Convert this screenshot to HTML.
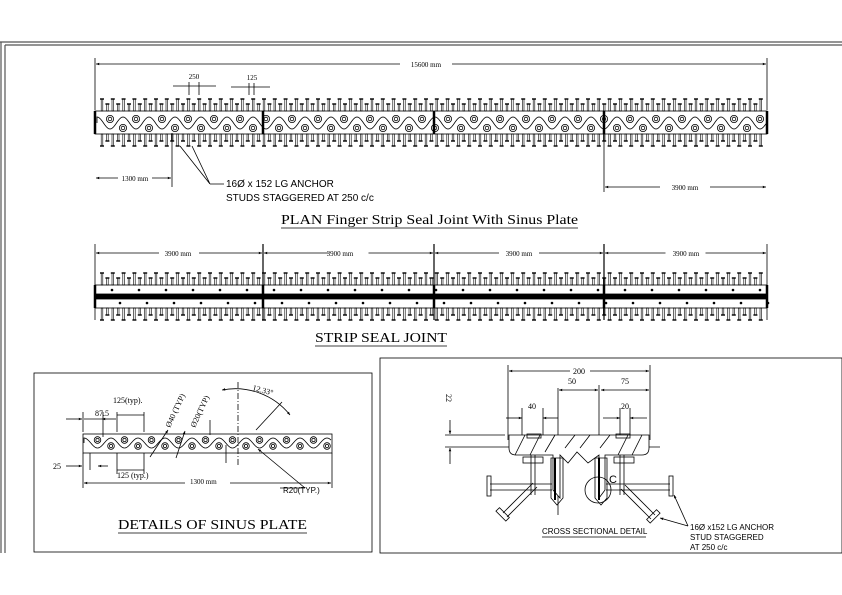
<!DOCTYPE html>
<html><head><meta charset="utf-8"><style>
html,body{margin:0;padding:0;background:#fff;}
svg{display:block;}
text{font-family:"Liberation Serif",serif;}
.s{font-family:"Liberation Sans",sans-serif;}
</style></head><body>
<svg id="g" width="842" height="595" viewBox="0 0 842 595" xmlns="http://www.w3.org/2000/svg" stroke="#000" fill="none" stroke-width="0.8">
<defs>
<marker id="a" viewBox="0 0 10 10" refX="10" refY="5" markerWidth="6" markerHeight="4" orient="auto-start-reverse"><path d="M0,1L10,5L0,9z" fill="#000" stroke="none"/></marker>
</defs>
<path d="M0,42H842M5,45H842M1,42V553M5,45V553" stroke="#555" stroke-width="1.2"/>
<rect x="34" y="373" width="338" height="179"/>
<rect x="380" y="358" width="462" height="195"/>

<line x1="95" y1="58" x2="95" y2="110"/><line x1="767" y1="58" x2="767" y2="110"/>
<line x1="96" y1="64" x2="400" y2="64" marker-start="url(#a)"/><line x1="452" y1="64" x2="766" y2="64" marker-end="url(#a)"/>
<text x="426" y="67" font-size="7" text-anchor="middle" fill="#000" stroke="none">15600 mm</text>
<text x="194" y="79" font-size="7" text-anchor="middle" fill="#000" stroke="none">250</text>
<line x1="173" y1="86" x2="216" y2="86"/><line x1="189" y1="82" x2="189" y2="95"/><line x1="199" y1="82" x2="199" y2="95"/>
<text x="252" y="80" font-size="7" text-anchor="middle" fill="#000" stroke="none">125</text>
<line x1="231" y1="87" x2="270" y2="87"/><line x1="249" y1="83" x2="249" y2="95"/><line x1="254" y1="83" x2="254" y2="95"/>
<line x1="172" y1="133" x2="172" y2="187"/>
<line x1="96" y1="178" x2="118" y2="178" marker-start="url(#a)"/><line x1="152" y1="178" x2="171" y2="178" marker-end="url(#a)"/>
<text x="135" y="181" font-size="7" text-anchor="middle" fill="#000" stroke="none">1300 mm</text>
<line x1="604" y1="133" x2="604" y2="192"/>
<line x1="605" y1="187" x2="660" y2="187" marker-start="url(#a)"/><line x1="710" y1="187" x2="766" y2="187" marker-end="url(#a)"/>
<text x="685" y="190" font-size="7" text-anchor="middle" fill="#000" stroke="none">3900 mm</text>
<path d="M210,184L180,146M210,184L192,146M210,184H224"/>
<text class="s" x="226" y="187" font-size="10" fill="#000" stroke="none" font-family="Liberation Sans">16Ø x 152 LG ANCHOR</text>
<text class="s" x="226" y="201" font-size="10" fill="#000" stroke="none" font-family="Liberation Sans">STUDS STAGGERED AT 250 c/c</text>
<text x="281" y="224" font-size="14" fill="#000" stroke="none" textLength="297" lengthAdjust="spacingAndGlyphs">PLAN  Finger Strip Seal Joint With Sinus Plate</text>
<line x1="281" y1="228" x2="578" y2="228"/>

<text x="315" y="342" font-size="14" fill="#000" stroke="none" textLength="132" lengthAdjust="spacingAndGlyphs">STRIP SEAL JOINT</text>
<line x1="315" y1="346" x2="447" y2="346"/>
<text x="340" y="256" font-size="7" text-anchor="middle" fill="#000" stroke="none">3900 mm</text>
<text x="178" y="256" font-size="7" text-anchor="middle" fill="#000" stroke="none">3900 mm</text>
<text x="519" y="256" font-size="7" text-anchor="middle" fill="#000" stroke="none">3900 mm</text>
<text x="686" y="256" font-size="7" text-anchor="middle" fill="#000" stroke="none">3900 mm</text>

<g fill="#000" stroke="none" font-size="8">
<text x="95" y="416">87.5</text>
<text x="113" y="403">125(typ).</text>
<text x="53" y="469">25</text>
<text x="117" y="478">125 (typ.)</text>
<text x="190" y="484" font-size="7">1300 mm</text>
<text x="283" y="493" class="s" font-family="Liberation Sans">R20(TYP.)</text>
<text x="252" y="390" transform="rotate(15 252 390)">12.33°</text>
<text x="170" y="428" transform="rotate(-65 170 428)">Ø40 (TYP)</text>
<text x="195" y="428" transform="rotate(-65 195 428)">Ø20(TYP)</text>
<text x="118" y="529" font-size="14" textLength="189" lengthAdjust="spacingAndGlyphs">DETAILS OF SINUS PLATE</text>
</g>
<line x1="118" y1="533" x2="307" y2="533"/>
<rect x="83" y="434" width="249" height="19"/>
<line x1="83" y1="453" x2="83" y2="488"/><line x1="332" y1="453" x2="332" y2="488"/>
<line x1="84" y1="483" x2="185" y2="483" marker-start="url(#a)"/><line x1="230" y1="483" x2="331" y2="483" marker-end="url(#a)"/>
<line x1="66" y1="419" x2="82" y2="419" marker-end="url(#a)"/><line x1="84" y1="419" x2="102" y2="419"/><line x1="102" y1="419" x2="116" y2="419" marker-start="url(#a)"/>
<line x1="83" y1="412" x2="83" y2="432"/><line x1="103" y1="412" x2="103" y2="437"/>
<line x1="117" y1="415" x2="144" y2="415"/><line x1="117" y1="412" x2="117" y2="432"/><line x1="144" y1="412" x2="144" y2="432"/>
<line x1="66" y1="466" x2="82" y2="466" marker-end="url(#a)"/><line x1="98" y1="466" x2="108" y2="466" marker-start="url(#a)"/><line x1="90" y1="453" x2="90" y2="470"/>
<line x1="117" y1="470" x2="144" y2="470"/><line x1="117" y1="453" x2="117" y2="474"/><line x1="144" y1="453" x2="144" y2="474"/>
<line x1="238" y1="382" x2="238" y2="465" stroke-dasharray="6,2,1,2"/>
<path d="M222,390 A 70 70 0 0 1 290,415" marker-start="url(#a)" marker-end="url(#a)"/>
<line x1="256" y1="430" x2="282" y2="402"/>
<line x1="150" y1="457" x2="168" y2="430" marker-end="url(#a)"/><line x1="176" y1="458" x2="185" y2="431" marker-end="url(#a)"/>
<line x1="210" y1="420" x2="210" y2="435"/><line x1="226" y1="445" x2="226" y2="463"/>
<line x1="305" y1="488" x2="258" y2="449" marker-end="url(#a)"/><line x1="280" y1="488" x2="305" y2="488"/>

<g stroke-width="0.8">
<line x1="508" y1="365" x2="508" y2="440"/><line x1="650" y1="365" x2="650" y2="440"/>
<line x1="509" y1="371" x2="570" y2="371" marker-start="url(#a)"/><line x1="590" y1="371" x2="649" y2="371" marker-end="url(#a)"/>
<line x1="558" y1="388" x2="558" y2="515"/><line x1="599" y1="385" x2="599" y2="470"/>
<line x1="559" y1="390" x2="598" y2="390" marker-start="url(#a)" marker-end="url(#a)"/>
<line x1="601" y1="390" x2="649" y2="390" marker-end="url(#a)" marker-start="url(#a)"/>
<line x1="506" y1="418" x2="522" y2="418" marker-end="url(#a)"/><line x1="543" y1="418" x2="558" y2="418" marker-start="url(#a)"/>
<line x1="522" y1="408" x2="522" y2="435"/><line x1="543" y1="408" x2="543" y2="435"/>
<line x1="603" y1="418" x2="620" y2="418" marker-end="url(#a)"/><line x1="630" y1="418" x2="647" y2="418" marker-start="url(#a)"/>
<line x1="620" y1="408" x2="620" y2="435"/><line x1="630" y1="408" x2="630" y2="435"/>
<line x1="445" y1="435" x2="505" y2="435"/><line x1="445" y1="447" x2="660" y2="447"/>
<line x1="450" y1="420" x2="450" y2="434" marker-end="url(#a)"/><line x1="450" y1="448" x2="450" y2="464" marker-start="url(#a)"/>
<path d="M509,435H649V448Q649,455 642,455H605V490L599,498V455L588,463L577,452L568,463L560,455V498L553,490V455H516Q509,455 509,448Z" fill="#fff"/>
<path d="M515,455L525,435M530,455L540,435M545,452L555,435M565,448L575,435M580,448L590,435M600,448L610,435M618,455L628,435M632,455L642,435"/>
<rect x="527" y="434" width="14" height="4"/><rect x="616" y="434" width="14" height="4"/>
<rect x="523" y="457" width="20" height="6"/><rect x="614" y="457" width="20" height="6"/>
<path d="M531,455V495M535,455V495M620,455V495M624,455V495"/>
<path d="M551,458H563V498L557,505L551,498Z"/><path d="M595,458H607V498L601,505L595,498Z"/>
<path d="M555,458V500M599,458V500" stroke-width="2"/>
<path d="M490,484H552M490,490H552M606,484H670M606,490H670"/>
<rect x="487" y="476" width="4" height="20"/><rect x="669" y="476" width="4" height="20"/>
<path d="M503,513L533,483M507,517L537,487M655,515L625,485M651,519L621,489"/>
<rect x="496" y="512" width="14" height="5" transform="rotate(45 503 514)"/><rect x="646" y="514" width="14" height="5" transform="rotate(-45 653 516)"/>
<circle cx="598" cy="490" r="13"/>
<text x="609" y="483" class="s" font-family="Liberation Sans" font-size="11" fill="#000" stroke="none">C</text>
<line x1="674" y1="495" x2="688" y2="526" marker-start="url(#a)"/><line x1="660" y1="518" x2="688" y2="526" marker-start="url(#a)"/>
</g>
<g fill="#000" stroke="none" font-size="8">
<text x="579" y="374" text-anchor="middle">200</text>
<text x="572" y="384" text-anchor="middle">50</text>
<text x="625" y="384" text-anchor="middle">75</text>
<text x="532" y="409" text-anchor="middle">40</text>
<text x="625" y="409" text-anchor="middle">20</text>
<text x="446" y="394" transform="rotate(90 446 394)">22</text>
<text x="542" y="534" class="s" font-family="Liberation Sans" font-size="8">CROSS SECTIONAL DETAIL</text>
<text x="690" y="530" class="s" font-family="Liberation Sans" font-size="8">16Ø x152 LG ANCHOR</text>
<text x="690" y="540" class="s" font-family="Liberation Sans" font-size="8">STUD STAGGERED</text>
<text x="690" y="550" class="s" font-family="Liberation Sans" font-size="8">AT 250 c/c</text>
</g>
<line x1="542" y1="537" x2="646" y2="537"/>
<g id="gen"></g>
</svg>
<script>
var NS="http://www.w3.org/2000/svg",g=document.getElementById('gen');
function el(n,a){var e=document.createElementNS(NS,n);for(var k in a)e.setAttribute(k,a[k]);g.appendChild(e);return e;}
function studs(y0,y1,down){var i=0;for(var x=102;x<764;x+=5.4,i++){var tall=i%2==0;var h=tall?12:7;
 if(!down){el('rect',{x:x-0.8,y:y1-h,width:1.6,height:h,'stroke-width':0.6});el('line',{x1:x-2,y1:y1-h,x2:x+2,y2:y1-h,'stroke-width':1.4});}
 else{el('rect',{x:x-0.8,y:y0,width:1.6,height:h,'stroke-width':0.6});el('line',{x1:x-2,y1:y0+h,x2:x+2,y2:y0+h,'stroke-width':1.4});}}}
function wave(x0,x1,yc,amp,per,dup,dlo,r){var d='M'+x0+','+yc;for(var x=x0;x<=x1;x+=1)d+='L'+x+','+(yc+amp*Math.cos((x-x0)/per*2*Math.PI+Math.PI));el('path',{d:d});
 for(var x=x0+per/2;x<x1;x+=per){el('circle',{cx:x,cy:yc-dup,r:r});el('circle',{cx:x,cy:yc-dup,r:r*0.5});}
 for(var x=x0+per;x<x1;x+=per){el('circle',{cx:x,cy:yc+dlo,r:r});el('circle',{cx:x,cy:yc+dlo,r:r*0.5});}}
el('rect',{x:95,y:111,width:672,height:23});
studs(134,111,false);studs(134,111,true);
[95,263,434,604,767].forEach(function(x){el('line',{x1:x,y1:111,x2:x,y2:134,'stroke-width':2.5});});
wave(97,766,123,6,26,4,5,3.6);
el('rect',{x:95,y:285,width:672,height:23});
el('rect',{x:95,y:294,width:672,height:5,fill:'#000'});
studs(308,285,false);studs(308,285,true);
[95,263,434,604,767].forEach(function(x){el('line',{x1:x,y1:244,x2:x,y2:320,'stroke-width':x==95||x==767?0.8:1.2});el('line',{x1:x,y1:285,x2:x,y2:308,'stroke-width':2.5});});
for(var x=112;x<767;x+=27){el('circle',{cx:x,cy:290,r:0.9,fill:'#000'});el('circle',{cx:x+8,cy:303,r:0.9,fill:'#000'});}
var segs=[95,263,434,604,767];for(var i=0;i<4;i++){var a=segs[i],b=segs[i+1],m=(a+b)/2;
el('line',{x1:a+1,y1:253,x2:m-20,y2:253,'marker-start':'url(#a)'});el('line',{x1:m+20,y1:253,x2:b-1,y2:253,'marker-end':'url(#a)'});}
wave(84,331,443,5,27,3,3,3.3);
</script>
</body></html>
